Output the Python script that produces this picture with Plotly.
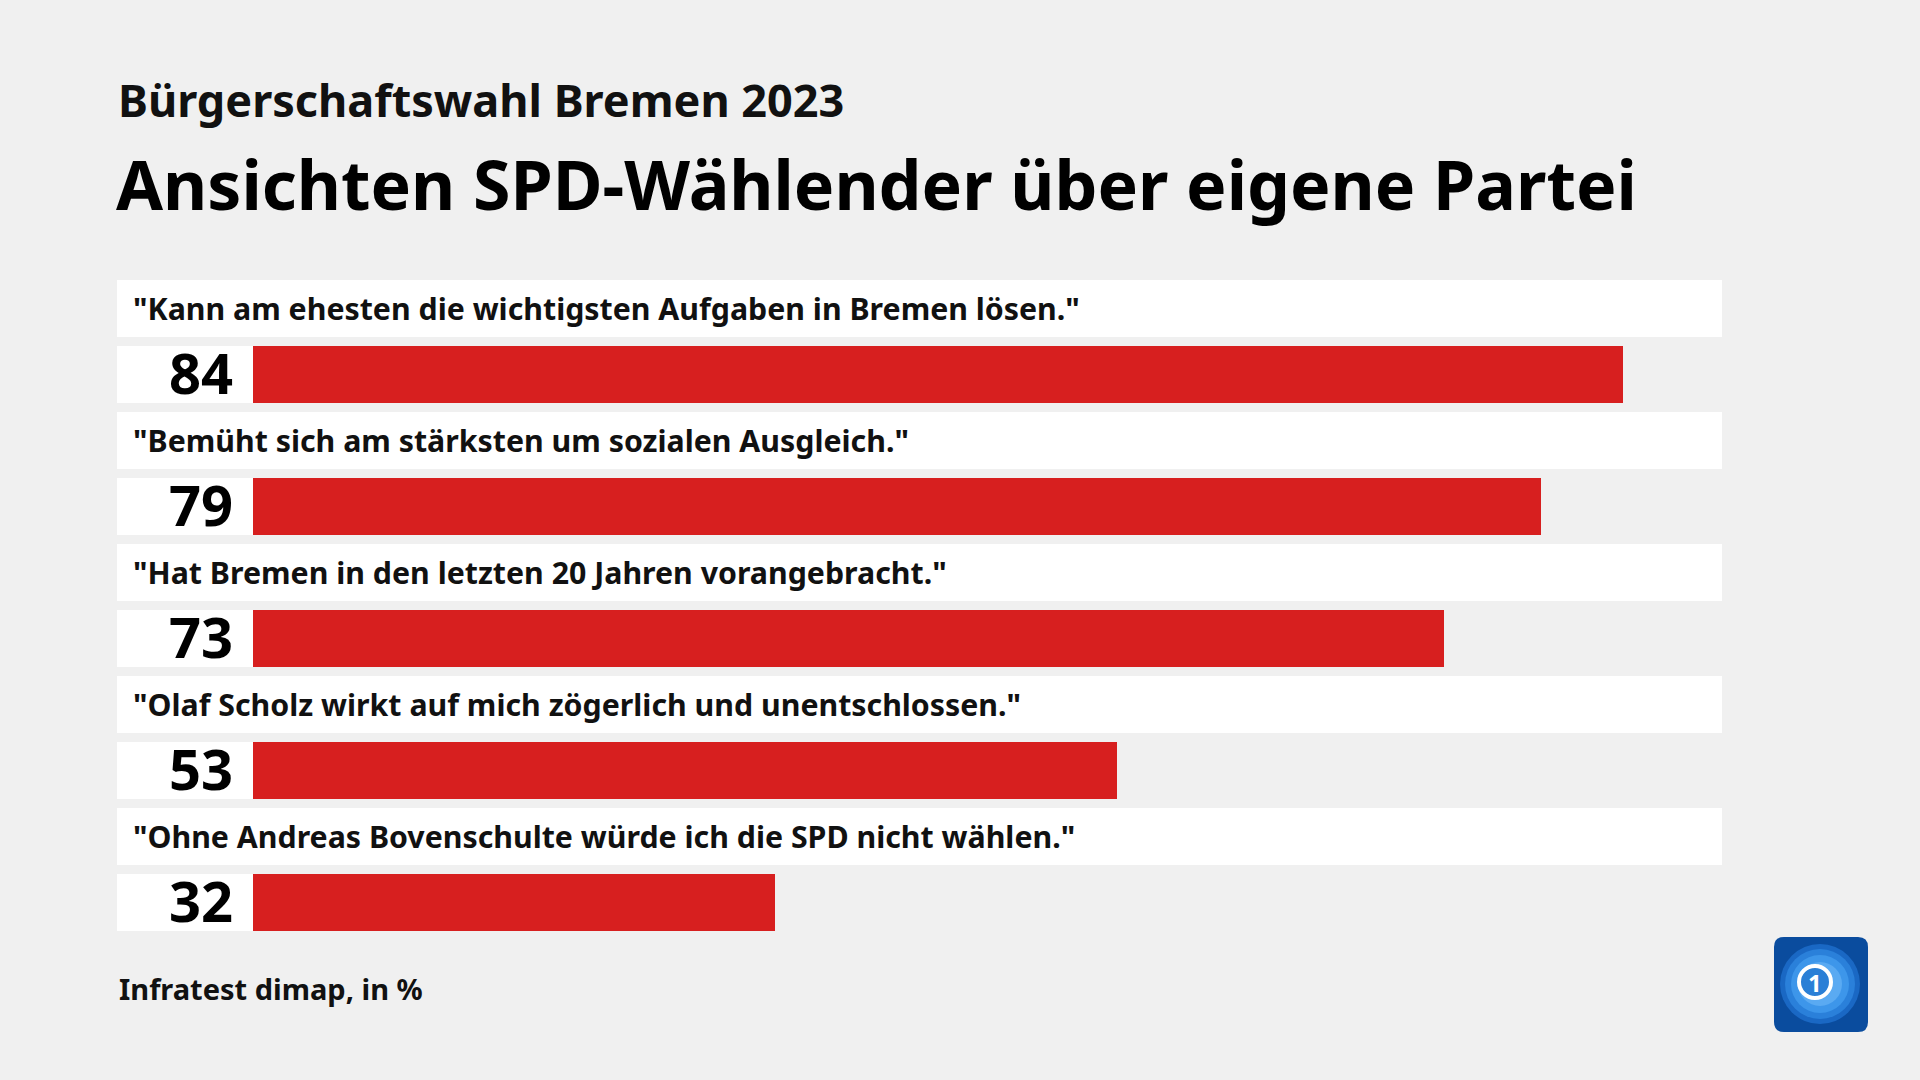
import plotly.graph_objects as go

# ---- data ----
subtitle = "Bürgerschaftswahl Bremen 2023"
title = "Ansichten SPD-Wählender über eigene Partei"
source = "Infratest dimap, in %"
statements = [
    '"Kann am ehesten die wichtigsten Aufgaben in Bremen lösen."',
    '"Bemüht sich am stärksten um sozialen Ausgleich."',
    '"Hat Bremen in den letzten 20 Jahren vorangebracht."',
    '"Olaf Scholz wirkt auf mich zögerlich und unentschlossen."',
    '"Ohne Andreas Bovenschulte würde ich die SPD nicht wählen."',
]
values = [84, 79, 73, 53, 32]

# ---- layout constants (pixels) ----
W, H = 1920, 1080
BG = "#f0f0f0"
RED = "#d71f1f"
FONT = "Noto Sans"
x0_px = 253          # where value 0 sits
unit_px = 16.31      # pixels per percent
row_px = 132         # row pitch
bar_center0 = 374.5  # centre of first bar
box_h = 57 / row_px  # height of bars / boxes in row units
left_px, right_px = 117, 1722

xrange = [(0 - x0_px) / unit_px, (W - x0_px) / unit_px]
yrange = [(H - bar_center0) / row_px, (0 - bar_center0) / row_px]

def px(x):
    return x / W

def py(y):
    return 1 - y / H

n = len(values)
rows = list(range(n))

fig = go.Figure()
fig.add_trace(go.Bar(
    x=values, y=rows, orientation="h", width=box_h,
    marker=dict(color=RED, line=dict(width=0)),
    hoverinfo="skip", showlegend=False,
))

shapes = []
annotations = []
for i, (s, v) in enumerate(zip(statements, values)):
    lc = i - 0.5
    shapes.append(dict(type="rect", xref="paper", yref="y",
                       x0=px(left_px), x1=px(right_px),
                       y0=lc - box_h / 2, y1=lc + box_h / 2,
                       fillcolor="white", line=dict(width=0), layer="below"))
    shapes.append(dict(type="rect", xref="paper", yref="y",
                       x0=px(left_px), x1=px(x0_px),
                       y0=i - box_h / 2, y1=i + box_h / 2,
                       fillcolor="white", line=dict(width=0), layer="below"))
    annotations.append(dict(text=s, xref="paper", yref="y", x=px(131), y=lc,
                            xanchor="left", yanchor="middle", showarrow=False,
                            font=dict(family=FONT, size=30.3, color="#111", weight="bold")))
    annotations.append(dict(text=str(v), xref="x", yref="y", x=0, y=i,
                            xanchor="right", yanchor="middle", xshift=-18, yshift=3,
                            showarrow=False,
                            font=dict(family=FONT, size=56, color="#000", weight="bold")))

annotations += [
    dict(text=subtitle, xref="paper", yref="paper", x=px(116), y=py(99),
         xanchor="left", yanchor="middle", showarrow=False,
         font=dict(family=FONT, size=45, color="#111", weight="bold")),
    dict(text=title, xref="paper", yref="paper", x=px(114), y=py(183),
         xanchor="left", yanchor="middle", showarrow=False,
         font=dict(family=FONT, size=68, color="#000", weight="bold")),
    dict(text=source, xref="paper", yref="paper", x=px(117), y=py(988),
         xanchor="left", yanchor="middle", showarrow=False,
         font=dict(family=FONT, size=29, color="#111", weight="bold")),
]

# ---- logo (tagesschau-like) ----
lx0, ly0, lx1, ly1, r = 1774, 937, 1868, 1032, 10
path = (f"M {px(lx0 + r)} {py(ly0)} L {px(lx1 - r)} {py(ly0)} "
        f"Q {px(lx1)} {py(ly0)} {px(lx1)} {py(ly0 + r)} L {px(lx1)} {py(ly1 - r)} "
        f"Q {px(lx1)} {py(ly1)} {px(lx1 - r)} {py(ly1)} L {px(lx0 + r)} {py(ly1)} "
        f"Q {px(lx0)} {py(ly1)} {px(lx0)} {py(ly1 - r)} L {px(lx0)} {py(ly0 + r)} "
        f"Q {px(lx0)} {py(ly0)} {px(lx0 + r)} {py(ly0)} Z")
shapes.append(dict(type="path", xref="paper", yref="paper", path=path,
                   fillcolor="#0a4c9e", line=dict(width=0)))
cx, cy = 1820, 984
for rr, col in [(40, "#1a68c4"), (35, "#2a80da"), (29, "#3d96ea"), (22, "#5aaaf2")]:
    shapes.append(dict(type="circle", xref="paper", yref="paper",
                       x0=px(cx - rr), x1=px(cx + rr), y0=py(cy + rr), y1=py(cy - rr),
                       fillcolor=col, line=dict(width=0)))
shapes.append(dict(type="circle", xref="paper", yref="paper",
                   x0=px(1815 - 16), x1=px(1815 + 16), y0=py(982 + 16), y1=py(982 - 16),
                   fillcolor="#2a7fd6", line=dict(color="white", width=4)))
annotations.append(dict(text="1", xref="paper", yref="paper", x=px(1815), y=py(982),
                        xanchor="center", yanchor="middle", showarrow=False,
                        font=dict(family=FONT, size=24, color="white", weight="bold")))

fig.update_layout(
    width=W, height=H,
    margin=dict(l=0, r=0, t=0, b=0),
    paper_bgcolor=BG, plot_bgcolor=BG,
    xaxis=dict(range=xrange, domain=[0, 1], visible=False, fixedrange=True),
    yaxis=dict(range=yrange, domain=[0, 1], visible=False, fixedrange=True),
    shapes=shapes, annotations=annotations,
    bargap=0,
)
fig.write_html("out.html", config={"displayModeBar": False},
               post_script="document.body.style.margin='0';document.body.style.background='#f0f0f0';")
